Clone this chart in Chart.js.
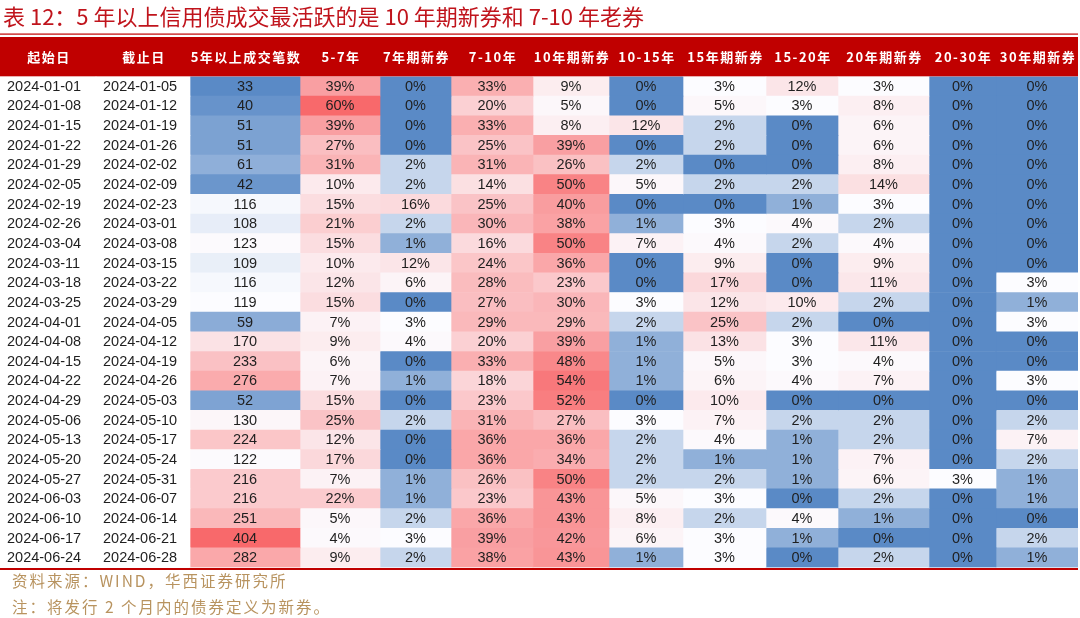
<!DOCTYPE html>
<html>
<head>
<meta charset="utf-8">
<script src="https://cdn.jsdelivr.net/npm/chart.js@4.4.1/dist/chart.umd.min.js"></script>
<style>
  html, body { margin: 0; padding: 0; background: #fff; }
  #wrap { width: 1080px; height: 618px; }
</style>
</head>
<body>
<div id="wrap"><canvas id="tabla" width="1080" height="618"></canvas></div>
<script>
const titleText = '表 12：5 年以上信用债成交最活跃的是 10 年期新券和 7-10 年老券';
const sourceText = '资料来源：WIND，华西证券研究所';
const noteText = '注：将发行 2 个月内的债券定义为新券。';

const headers = ['起始日', '截止日', '5年以上成交笔数', '5-7年', '7年期新券', '7-10年', '10年期新券', '10-15年', '15年期新券', '15-20年', '20年期新券', '20-30年', '30年期新券'];

const startDates = ['2024-01-01', '2024-01-08', '2024-01-15', '2024-01-22', '2024-01-29', '2024-02-05', '2024-02-19', '2024-02-26', '2024-03-04', '2024-03-11', '2024-03-18', '2024-03-25', '2024-04-01', '2024-04-08', '2024-04-15', '2024-04-22', '2024-04-29', '2024-05-06', '2024-05-13', '2024-05-20', '2024-05-27', '2024-06-03', '2024-06-10', '2024-06-17', '2024-06-24'];
const endDates = ['2024-01-05', '2024-01-12', '2024-01-19', '2024-01-26', '2024-02-02', '2024-02-09', '2024-02-23', '2024-03-01', '2024-03-08', '2024-03-15', '2024-03-22', '2024-03-29', '2024-04-05', '2024-04-12', '2024-04-19', '2024-04-26', '2024-05-03', '2024-05-10', '2024-05-17', '2024-05-24', '2024-05-31', '2024-06-07', '2024-06-14', '2024-06-21', '2024-06-28'];

const tradeCount = [33, 40, 51, 51, 61, 42, 116, 108, 123, 109, 116, 119, 59, 170, 233, 276, 52, 130, 224, 122, 216, 216, 251, 404, 282];

// 各期限占比（%）
const y5to7 = [39, 60, 39, 27, 31, 10, 15, 21, 15, 10, 12, 15, 7, 9, 6, 7, 15, 25, 12, 17, 7, 22, 5, 4, 9];
const new7 = [0, 0, 0, 0, 2, 2, 16, 2, 1, 12, 6, 0, 3, 4, 0, 1, 0, 2, 0, 0, 1, 1, 2, 3, 2];
const y7to10 = [33, 20, 33, 25, 31, 14, 25, 30, 16, 24, 28, 27, 29, 20, 33, 18, 23, 31, 36, 36, 26, 23, 36, 39, 38];
const new10 = [9, 5, 8, 39, 26, 50, 40, 38, 50, 36, 23, 30, 29, 39, 48, 54, 52, 27, 36, 34, 50, 43, 43, 42, 43];
const y10to15 = [0, 0, 12, 0, 2, 5, 0, 1, 7, 0, 0, 3, 2, 1, 1, 1, 0, 3, 2, 2, 2, 5, 8, 6, 1];
const new15 = [3, 5, 2, 2, 0, 2, 0, 3, 4, 9, 17, 12, 25, 13, 5, 6, 10, 7, 4, 1, 2, 3, 2, 3, 3];
const y15to20 = [12, 3, 0, 0, 0, 2, 1, 4, 2, 0, 0, 10, 2, 3, 3, 4, 0, 2, 1, 1, 1, 0, 4, 1, 0];
const new20 = [3, 8, 6, 6, 8, 14, 3, 2, 4, 9, 11, 2, 0, 11, 4, 7, 0, 2, 2, 7, 6, 2, 1, 0, 2];
const y20to30 = [0, 0, 0, 0, 0, 0, 0, 0, 0, 0, 0, 0, 0, 0, 0, 0, 0, 0, 0, 0, 3, 0, 0, 0, 0];
const new30 = [0, 0, 0, 0, 0, 0, 0, 0, 0, 0, 3, 1, 3, 0, 0, 3, 0, 2, 7, 2, 1, 1, 0, 2, 1];

// 表格排版：列宽
const colWidths = [96, 94, 110, 80, 71, 82, 76, 74, 83, 72, 91, 67, 82];

const pctCols = [y5to7, new7, y7to10, new10, y10to15, new15, y15to20, new20, y20to30, new30];

// Excel 三色刻度：最小值蓝、50%分位白、最大值红
const BLUE = [90, 138, 198], WHITE = [252, 252, 255], RED = [248, 105, 107];

function percentile(arr, p) {
    const s = [...arr].sort((a, b) => a - b);
    const k = (s.length - 1) * p;
    const f = Math.floor(k);
    const c = Math.min(f + 1, s.length - 1);
    return s[f] + (s[c] - s[f]) * (k - f);
}

function makeScale(values) {
    const min = Math.min(...values), max = Math.max(...values), mid = percentile(values, 0.5);
    return function(v) {
        let a, b, t;
        if (v <= mid) {
            a = BLUE; b = WHITE; t = mid === min ? 1 : (v - min) / (mid - min);
        } else {
            a = WHITE; b = RED; t = (v - mid) / (max - mid);
        }
        const rgb = a.map((x, i) => Math.round(x + (b[i] - x) * t));
        return `rgb(${rgb[0]}, ${rgb[1]}, ${rgb[2]})`;
    };
}

const countColor = makeScale(tradeCount);
const pctColor = makeScale(pctCols.flat());

const columns = [
    { kind: 'date', values: startDates },
    { kind: 'date', values: endDates },
    { kind: 'count', values: tradeCount },
    ...pctCols.map(v => ({ kind: 'pct', values: v }))
];

const datasets = columns.map((col, c) => ({
    label: headers[c],
    data: startDates.map(() => colWidths[c]),
    backgroundColor: col.values.map(v => col.kind === 'date' ? '#ffffff' : (col.kind === 'count' ? countColor(v) : pctColor(v))),
    borderWidth: 0,
    barPercentage: 1,
    categoryPercentage: 1
}));

const tableDecor = {
    id: 'tableDecor',
    beforeDraw(chart) {
        const { ctx, chartArea: a } = chart;
        ctx.save();
        // 标题
        ctx.fillStyle = '#C0141C';
        ctx.font = '22px "Noto Sans CJK SC", sans-serif';
        ctx.textBaseline = 'middle';
        ctx.textAlign = 'left';
        ctx.fillText(titleText, 3, 17);
        // 表头
        ctx.fillStyle = '#C00000';
        ctx.fillRect(0, 33.5, a.right, 1.2);
        ctx.fillRect(0, 37, a.right, a.top - 37);
        // 底线
        ctx.fillRect(0, a.bottom + 0.5, a.right, 2);
        // 注释
        ctx.fillStyle = '#B8935F';
        ctx.font = '15.5px "Noto Sans CJK SC", sans-serif';
        ctx.letterSpacing = '2px';
        ctx.fillText(sourceText, 12, 581);
        ctx.fillText(noteText, 12, 607);
        ctx.restore();
    },
    afterDatasetsDraw(chart) {
        const { ctx, chartArea: a } = chart;
        ctx.save();
        ctx.textBaseline = 'middle';
        chart.data.datasets.forEach((ds, c) => {
            const els = chart.getDatasetMeta(c).data;
            const first = els[0].getProps(['x', 'base'], true);
            const cx = (first.x + first.base) / 2;
            ctx.fillStyle = '#ffffff';
            ctx.font = 'bold 13px "Noto Sans CJK SC", sans-serif';
            ctx.letterSpacing = '1.5px';
            ctx.textAlign = 'center';
            ctx.fillText(headers[c], cx + 1, (37 + a.top) / 2);
            ctx.letterSpacing = '0px';
            ctx.fillStyle = '#1f1f1f';
            ctx.font = '14.5px "Liberation Sans", Arial, sans-serif';
            els.forEach((el, r) => {
                const p = el.getProps(['x', 'base', 'y'], true);
                const col = columns[c];
                const v = col.values[r];
                if (col.kind === 'date') {
                    ctx.textAlign = 'left';
                    ctx.fillText(v, p.base + 7, p.y + 0.5);
                } else {
                    ctx.textAlign = 'center';
                    ctx.fillText(col.kind === 'pct' ? v + '%' : String(v), (p.x + p.base) / 2, p.y + 0.5);
                }
            });
        });
        ctx.restore();
    }
};

const totalWidth = colWidths.reduce((s, w) => s + w, 0);

new Chart(document.getElementById('tabla'), {
    type: 'bar',
    data: { labels: startDates, datasets: datasets },
    options: {
        indexAxis: 'y',
        responsive: false,
        animation: false,
        devicePixelRatio: 1,
        layout: { padding: { top: 76.5, bottom: 50.5, left: 0, right: 1080 - totalWidth } },
        scales: {
            x: { type: 'linear', stacked: true, display: false, min: 0, max: totalWidth },
            y: { type: 'category', stacked: true, display: false }
        },
        plugins: {
            legend: { display: false },
            tooltip: { enabled: false }
        }
    },
    plugins: [tableDecor]
});
</script>
</body>
</html>
